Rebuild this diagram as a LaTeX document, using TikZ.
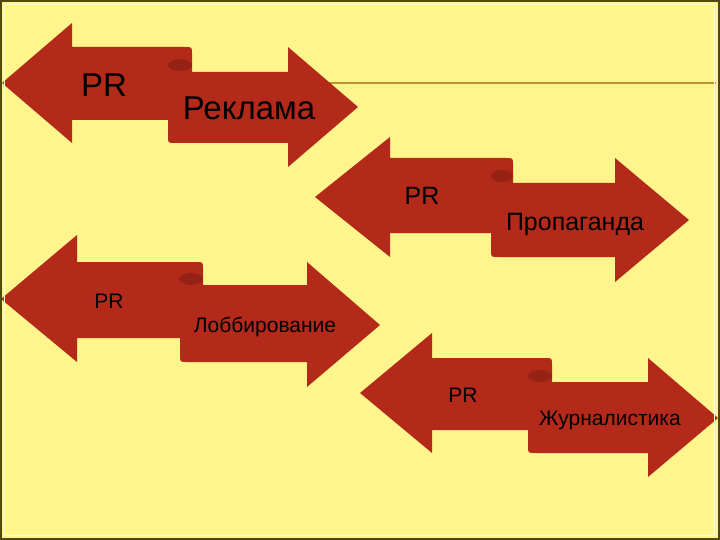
\documentclass[tikz,border=0pt]{standalone}
\usepackage{fontspec}
\setmainfont{Liberation Sans}
\definecolor{bgyellow}{RGB}{255,245,140}
\definecolor{arrowred}{RGB}{180,42,26}
\definecolor{folddark}{RGB}{150,34,22}
\definecolor{frameolive}{RGB}{80,72,16}
\definecolor{ruleline}{RGB}{185,150,50}
\definecolor{framelight}{RGB}{255,252,205}
\begin{document}
\begin{tikzpicture}[x=1pt,y=-1pt,
  swoosh/.style={fill=arrowred},
  fold/.style={fill=folddark},
  lbl/.style={anchor=base, inner sep=0pt, text=black},
  bigtxt/.style={font=\fontsize{33}{33}\selectfont},
  midtxt/.style={font=\fontsize{25}{25}\selectfont},
  smalltxt/.style={font=\fontsize{21}{21}\selectfont}]
\fill[bgyellow] (0,0) rectangle (720,540);
\useasboundingbox (0,0) rectangle (720,540);
\draw[ruleline, line width=1.2pt] (300,83) -- (716,83);

% arrow 1
\fill[swoosh] (2,83) -- (72,23) -- (72,47) -- (185,47) .. controls (192,47) .. (192,54)
  -- (192,72) -- (288,72) -- (288,47) -- (358,107) -- (288,167) -- (288,143)
  -- (175,143) .. controls (168,143) .. (168,136) -- (168,120) -- (72,120) -- (72,143) -- cycle;
\fill[fold] (180,65) ellipse [x radius=12pt, y radius=6pt];
\node[lbl, bigtxt] (pr1) at (104,97) {PR};
\node[lbl, bigtxt] (t1) at (249,120) {Реклама};

% arrow 2
\fill[swoosh] (315,197) -- (390,137) -- (390,158) -- (506,158) .. controls (513,158) .. (513,165)
  -- (513,183) -- (615,183) -- (615,158) -- (689,220) -- (615,282) -- (615,257)
  -- (498,257) .. controls (491,257) .. (491,250) -- (491,233) -- (390,233) -- (390,257) -- cycle;
\fill[fold] (502,176) ellipse [x radius=11pt, y radius=6pt];
\node[lbl, midtxt] (pr2) at (422,205) {PR};
\node[lbl, midtxt] (t2) at (575,230) {Пропаганда};

% arrow 3
\fill[swoosh] (1,299) -- (77,235) -- (77,262) -- (196,262) .. controls (203,262) .. (203,269)
  -- (203,285) -- (307,285) -- (307,262) -- (380,325) -- (307,387) -- (307,362)
  -- (187,362) .. controls (180,362) .. (180,355) -- (180,338) -- (77,338) -- (77,362) -- cycle;
\fill[fold] (191,279) ellipse [x radius=12pt, y radius=6pt];
\node[lbl, smalltxt] (pr3) at (109,308) {PR};
\node[lbl, smalltxt] (t3) at (265,332) {Лоббирование};

% arrow 4
\fill[swoosh] (360,393) -- (432,333) -- (432,358) -- (545,358) .. controls (552,358) .. (552,365)
  -- (552,382) -- (648,382) -- (648,358) -- (718,418) -- (648,477) -- (648,453)
  -- (535,453) .. controls (528,453) .. (528,446) -- (528,430) -- (432,430) -- (432,453) -- cycle;
\fill[fold] (540,376) ellipse [x radius=12pt, y radius=6pt];
\node[lbl, smalltxt] (pr4) at (463,402) {PR};
\node[lbl, smalltxt] (t4) at (610,425) {Журналистика};

% frame
\draw[framelight, line width=0.8pt] (4,4) rectangle (714,535);
\draw[frameolive, line width=2pt] (1,1) rectangle (719,539);
\end{tikzpicture}
\end{document}
